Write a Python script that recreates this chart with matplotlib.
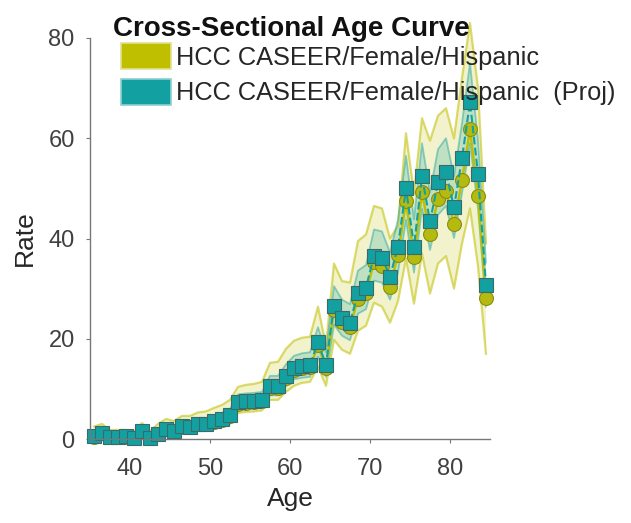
import numpy as np
import matplotlib
matplotlib.use("Agg")
import matplotlib.pyplot as plt
from matplotlib.patches import Patch

plt.rcParams['font.family'] = ['Liberation Sans', 'DejaVu Sans']

# age bin midpoints 35.5 ... 84.5
ages = np.arange(35, 85) + 0.5

# projected rate (teal squares)
proj = [0.5, 1.2, 0.3, 0.4, 0.5, 0.1, 1.5, 0.1, 1.0, 2.0,
        1.6, 2.5, 2.4, 3.0, 3.0, 3.5, 4.0, 4.7, 7.3, 7.5,
        7.6, 7.8, 10.6, 10.6, 12.6, 14.2, 14.6, 14.8, 19.3, 14.8,
        26.6, 24.1, 23.2, 29.2, 30.2, 36.6, 36.2, 32.4, 38.4, 50.0,
        38.4, 52.4, 43.4, 51.2, 53.2, 46.2, 56.0, 67.2, 52.8, 30.8]

# observed rate (olive circles)
obs = [0.4, 1.1, 0.3, 0.4, 0.4, 0.1, 1.4, 0.1, 0.9, 1.9,
       1.5, 2.4, 2.3, 2.9, 2.9, 3.4, 3.8, 4.5, 7.0, 7.2,
       7.3, 7.5, 10.2, 10.2, 12.1, 13.7, 14.1, 14.3, 18.7, 14.2,
       25.8, 23.3, 22.4, 28.0, 29.2, 35.4, 34.6, 30.4, 36.8, 47.4,
       36.4, 49.2, 40.8, 47.8, 49.4, 42.8, 51.6, 61.8, 48.4, 28.2]

# observed confidence band
obs_lo = [0.0, 0.0, 0.0, 0.0, 0.0, 0.0, 0.3, 0.0, 0.2, 0.8,
          0.6, 1.2, 1.2, 1.6, 1.7, 2.1, 2.5, 3.0, 5.2, 5.4,
          5.5, 5.7, 7.8, 7.8, 9.4, 10.6, 11.2, 11.4, 14.4, 10.6,
          19.8, 17.8, 17.0, 21.6, 22.6, 27.2, 26.4, 23.2, 27.5, 36.0,
          27.0, 37.0, 29.0, 35.0, 36.5, 30.0, 39.0, 46.0, 34.5, 17.0]
obs_hi = [2.5, 3.0, 1.8, 1.8, 1.8, 1.5, 3.2, 1.6, 3.0, 4.0,
          3.6, 4.6, 4.6, 5.3, 5.5, 6.2, 6.8, 7.8, 10.4, 10.8,
          11.0, 11.4, 15.2, 15.4, 18.0, 19.6, 20.2, 20.4, 26.4, 18.6,
          35.0, 31.5, 31.2, 39.5, 40.8, 46.5, 46.0, 40.0, 42.5, 61.0,
          49.0, 64.0, 59.5, 64.5, 66.0, 60.0, 72.0, 83.0, 70.0, 39.0]

# projected confidence band
proj_lo = [0.0, 0.4, 0.0, 0.0, 0.0, 0.0, 0.7, 0.0, 0.4, 1.2,
           0.9, 1.6, 1.6, 2.1, 2.1, 2.5, 2.9, 3.5, 5.8, 6.0,
           6.1, 6.3, 8.7, 8.7, 10.5, 11.9, 12.2, 12.4, 16.4, 12.4,
           22.8, 20.6, 19.7, 25.0, 25.9, 31.6, 31.2, 27.8, 33.2, 43.7,
           33.2, 45.9, 37.7, 44.7, 46.5, 40.1, 49.0, 59.0, 46.0, 26.4]
proj_hi = [1.6, 2.3, 1.0, 1.1, 1.2, 0.7, 2.5, 0.7, 1.9, 3.0,
           2.6, 3.5, 3.4, 4.1, 4.1, 4.7, 5.2, 6.0, 8.9, 9.1,
           9.2, 9.4, 12.6, 12.6, 14.9, 16.6, 17.1, 17.3, 22.3, 17.3,
           30.5, 27.8, 26.9, 33.6, 34.7, 41.8, 41.4, 37.2, 43.8, 56.5,
           43.8, 59.0, 49.2, 57.8, 60.0, 52.4, 63.0, 75.0, 59.6, 35.2]

olive = '#BFBF00'
teal = '#12A0A0'
txt = '#262626'

fig = plt.figure(figsize=(6.31, 5.23), dpi=100)
ax = fig.add_axes([90 / 631, 1 - 439 / 523, 400 / 631, 401 / 523])

# bands (not clipped, the top of the band pokes above the axes like the original)
ax.fill_between(ages, obs_lo, obs_hi, facecolor=olive, alpha=0.2, lw=0, clip_on=False)
ax.plot(ages, obs_lo, color=olive, alpha=0.55, lw=1.6, clip_on=False)
ax.plot(ages, obs_hi, color=olive, alpha=0.55, lw=1.6, clip_on=False)
ax.fill_between(ages, proj_lo, proj_hi, facecolor=teal, alpha=0.22, lw=0)
ax.plot(ages, proj_lo, color=teal, alpha=0.45, lw=1.3)
ax.plot(ages, proj_hi, color=teal, alpha=0.45, lw=1.3)

# observed
ax.plot(ages, obs, color=olive, lw=1.8, marker='o', ms=10,
        mfc='#B5BA10', mec='#8A8F10', mew=0.8, clip_on=False)
# projected
ax.plot(ages, proj, color=teal, lw=1.5, ls='--', marker='s', ms=9.6,
        mfc=teal, mec='#3A6A6A', mew=0.8, clip_on=False)

ax.set_xlim(35, 85)
ax.set_ylim(0, 80)
ax.set_xticks([40, 50, 60, 70, 80])
ax.set_yticks([0, 20, 40, 60, 80])
ax.spines['top'].set_visible(False)
ax.spines['right'].set_visible(False)
for s in ['left', 'bottom']:
    ax.spines[s].set_color('#777777')
    ax.spines[s].set_linewidth(1.0)
ax.tick_params(direction='out', length=3, width=0.8, color='#777777',
               labelsize=17, labelcolor='#404040')
ax.tick_params(axis='x', pad=11)
ax.tick_params(axis='y', pad=8)
ax.set_xlabel('Age', fontsize=19, color=txt, labelpad=5)
ax.set_ylabel('Rate', fontsize=19, color=txt, labelpad=8)

fig.text(291 / 631, 1 - 29 / 523, 'Cross-Sectional Age Curve', ha='center',
         va='center', fontsize=20, fontweight='bold', color='#111111')

handles = [Patch(facecolor=olive, edgecolor='#E0E090', lw=1.2),
           Patch(facecolor=teal, edgecolor='#90D0D0', lw=1.2)]
labels = ['HCC CASEER/Female/Hispanic', 'HCC CASEER/Female/Hispanic  (Proj)']
fig.legend(handles, labels, loc='upper left', bbox_to_anchor=(121 / 631, 1 - 43 / 523),
           frameon=False, fontsize=18.3, handlelength=1.95, handleheight=1.2,
           handletextpad=0.2, labelspacing=0.35, borderpad=0, borderaxespad=0,
           labelcolor=txt)

fig.savefig('out.png', dpi=100)
